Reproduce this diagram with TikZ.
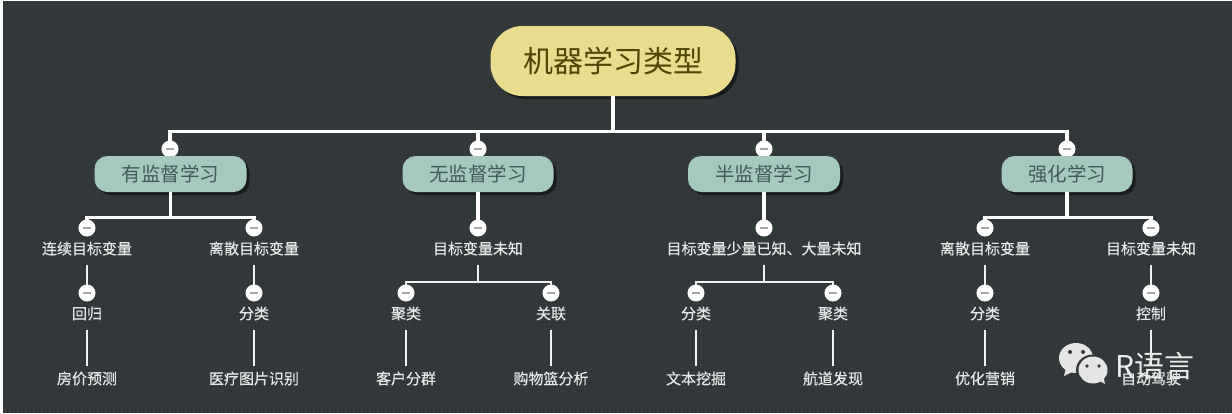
\documentclass[tikz,border=0pt]{standalone}
\usepackage{fontspec}
\setmainfont{Noto Sans CJK SC}
\newfontfamily\itemfont[FakeBold=0.4]{Noto Sans CJK SC}
\usetikzlibrary{shadows,patterns.meta}
\definecolor{boardgray}{HTML}{33393B}
\definecolor{boarddot}{HTML}{2C3133}
\definecolor{rootfill}{HTML}{E9DC8E}
\definecolor{rootink}{HTML}{4F4505}
\definecolor{typefill}{HTML}{A5C8BF}
\definecolor{typeink}{HTML}{3F5C56}
\definecolor{leafink}{HTML}{E6E8E8}
\tikzset{
  root/.style={rounded corners=32pt,fill=rootfill,minimum width=245pt,minimum height=70pt,
    text=rootink,font=\fontsize{30}{32}\selectfont,inner sep=0pt,
    drop shadow={shadow xshift=3pt,shadow yshift=-3pt,fill=black,opacity=.5}},
  kind/.style={rounded corners=13pt,fill=typefill,minimum height=36pt,text=typeink,
    font=\fontsize{19.5}{22}\selectfont,inner sep=0pt,
    drop shadow={shadow xshift=3pt,shadow yshift=-3pt,fill=black,opacity=.5}},
  item/.style={text=leafink,font=\itemfont\fontsize{15}{17}\selectfont,minimum height=32pt,inner sep=0pt,yshift=-.5pt},
  leaf/.style={text=leafink,font=\itemfont\fontsize{15}{17}\selectfont,minimum height=24pt,inner sep=0pt,yshift=-.5pt},
  knob/.style={circle,fill=white,draw=white,line width=2pt,minimum size=15pt,inner sep=0pt,
    path picture={\fill[gray!70] (path picture bounding box.center) ++(-4pt,-1pt) rectangle ++(8pt,2pt);}},
  link/.style={draw=white,line width=3.2pt},
  stem/.style={draw=white!95!black,line width=2.4pt},
  bus/.style={to path={(\tikztostart) -- ++(0,#1) -| (\tikztotarget)}}
}
\begin{document}
\begin{tikzpicture}[x=1pt,y=-1pt]
    \useasboundingbox (0,0) rectangle (1232,413);
    \fill[white] (0,0) rectangle (1232,413);
    \fill[boardgray] (3,1) rectangle (1232,413);
    \fill[pattern={Dots[distance=4pt,radius=.7pt]},pattern color=boarddot] (3,1) rectangle (1232,413);

    % top level
    \node[root] (root) at (613,61) {\raisebox{1pt}{机器学习类型}};
    \node[knob] (knobA) at (170,149) {};
    \node[knob] (knobB) at (478,149) {};
    \node[knob] (knobC) at (764,149) {};
    \node[knob] (knobD) at (1067,149) {};
    \node[kind,minimum width=152pt] (superv) at (170.5,174) {有监督学习};
    \node[kind,minimum width=151pt] (unsuperv) at (478,174) {无监督学习};
    \node[kind,minimum width=152pt] (semi) at (764,174) {半监督学习};
    \node[kind,minimum width=131pt] (reinf) at (1067,174) {强化学习};

    % supervised
    \node[knob] (knobAa) at (87,228) {};
    \node[knob] (knobAb) at (254,228) {};
    \node[item] (contin) at (87,248) {连续目标变量};
    \node[item] (discr) at (254,248) {离散目标变量};
    \node[knob] (knobAc) at (87,293) {};
    \node[knob] (knobAd) at (254,293) {};
    \node[item] (regress) at (87,313) {回归};
    \node[item] (classA) at (254,313) {分类};
    \node[leaf] (house) at (87,378) {房价预测};
    \node[leaf] (medical) at (254,378) {医疗图片识别};

    % unsupervised
    \node[knob] (knobBa) at (478,228) {};
    \node[item] (unknownB) at (478,248) {目标变量未知};
    \node[knob] (knobBb) at (406,293) {};
    \node[knob] (knobBc) at (551,293) {};
    \node[item] (clusterB) at (406,313) {聚类};
    \node[item] (assoc) at (551,313) {关联};
    \node[leaf] (customer) at (406,378) {客户分群};
    \node[leaf] (basket) at (551,378) {购物篮分析};

    % semi-supervised
    \node[knob] (knobCa) at (764,228) {};
    \node[item] (fewknown) at (764,248) {目标变量少量已知、大量未知};
    \node[knob] (knobCb) at (696,293) {};
    \node[knob] (knobCc) at (833,293) {};
    \node[item] (classC) at (696,313) {分类};
    \node[item] (clusterC) at (833,313) {聚类};
    \node[leaf] (textmine) at (696,378) {文本挖掘};
    \node[leaf] (route) at (833,378) {航道发现};

    % reinforcement
    \node[knob] (knobDa) at (985,228) {};
    \node[knob] (knobDb) at (1151,228) {};
    \node[item] (discrD) at (985,248) {离散目标变量};
    \node[item] (unknownD) at (1151,248) {目标变量未知};
    \node[knob] (knobDc) at (985,293) {};
    \node[knob] (knobDd) at (1151,293) {};
    \node[item] (classD) at (985,313) {分类};
    \node[item] (control) at (1151,313) {控制};
    \node[leaf] (market) at (985,378) {优化营销};
    \node[leaf] (drive) at (1151,378) {自动驾驶};

    % connectors
    \draw[link] (root.south) to[bus=35] (knobA.north);
    \draw[link] (root.south) to[bus=35] (knobB.north);
    \draw[link] (root.south) to[bus=35] (knobC.north);
    \draw[link] (root.south) to[bus=35] (knobD.north);
    \draw[link] (superv.south) to[bus=25] (knobAa.north);
    \draw[link] (superv.south) to[bus=25] (knobAb.north);
    \draw[link] (unsuperv.south) -- (knobBa.north);
    \draw[link] (semi.south) -- (knobCa.north);
    \draw[link] (reinf.south) to[bus=25] (knobDa.north);
    \draw[link] (reinf.south) to[bus=25] (knobDb.north);
    \draw[stem] (contin.south) -- (knobAc.north);
    \draw[stem] (discr.south) -- (knobAd.north);
    \draw[stem] (unknownB.south) to[bus=17] (knobBb.north);
    \draw[stem] (unknownB.south) to[bus=17] (knobBc.north);
    \draw[stem] (fewknown.south) to[bus=17] (knobCb.north);
    \draw[stem] (fewknown.south) to[bus=17] (knobCc.north);
    \draw[stem] (discrD.south) -- (knobDc.north);
    \draw[stem] (unknownD.south) -- (knobDd.north);
    \draw[stem] (regress.south) -- (house.north);
    \draw[stem] (classA.south) -- (medical.north);
    \draw[stem] (clusterB.south) -- (customer.north);
    \draw[stem] (assoc.south) -- (basket.north);
    \draw[stem] (classC.south) -- (textmine.north);
    \draw[stem] (clusterC.south) -- (route.north);
    \draw[stem] (classD.south) -- (market.north);
    \draw[stem] (control.south) -- (drive.north);

    % watermark
    \fill[white!90!black] (1076,358) ellipse (17pt and 15pt);
    \fill[white!90!black] (1066,368) -- (1064,376) -- (1074,371) -- cycle;
    \fill[boardgray] (1093,370) ellipse (17pt and 15.5pt);
    \fill[white!90!black] (1093,370) ellipse (14.5pt and 13.5pt);
    \fill[white!90!black] (1098,380) -- (1105,384) -- (1103,375) -- cycle;
    \fill[boardgray] (1070,352) circle (2pt) (1083,352) circle (2pt)
        (1087,366) circle (1.8pt) (1099,366) circle (1.8pt);
    \node[text=white!92!black,font=\fontsize{30}{32}\selectfont,inner sep=0pt] (brand) at (1155,366) {R语言};
\end{tikzpicture}
\end{document}
